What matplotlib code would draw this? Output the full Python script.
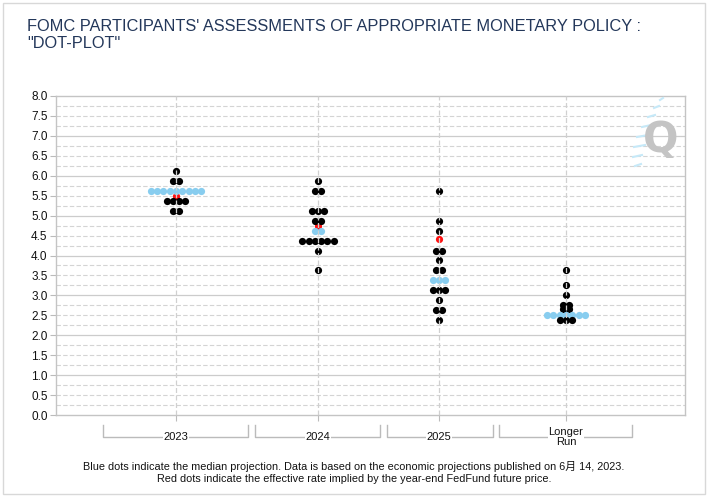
import matplotlib.pyplot as plt
import numpy as np
from matplotlib.lines import Line2D
from matplotlib.patches import Rectangle

# Datos del dot-plot (FOMC, junio 2023)
categorias = ['2023', '2024', '2025', 'Longer\nRun']
niveles = [
    [6.125, 5.875, 5.625, 5.375, 5.125],
    [5.875, 5.625, 5.125, 4.875, 4.625, 4.375, 4.125, 3.625],
    [5.625, 4.875, 4.625, 4.125, 3.875, 3.625, 3.375, 3.125, 2.875, 2.625, 2.375],
    [3.625, 3.25, 3.0, 2.75, 2.65, 2.5, 2.375],
]
conteos = [
    [1, 2, 9, 4, 2],
    [1, 2, 3, 2, 2, 6, 1, 1],
    [1, 1, 1, 2, 1, 2, 3, 3, 1, 2, 1],
    [1, 1, 1, 2, 2, 7, 3],
]
medianas = [5.625, 4.625, 3.375, 2.5]
tasa_futuros = [5.5, 4.75, 4.42, None]

# layout (unidades = pixeles desde el eje izquierdo)
centros = [120, 262, 383, 510]
llaves = [(47, 192), (199, 324), (331, 437), (443, 576)]
paso = 6.3

fuente = ['Liberation Sans Narrow', 'Liberation Sans', 'Noto Sans CJK SC']
plt.rcParams['font.family'] = fuente

fig = plt.figure(figsize=(7.09, 4.97), dpi=100)
ax = fig.add_axes([56 / 709, 1 - 415 / 497, 629 / 709, 319 / 497])

# Rejilla horizontal: solida cada 1.0, punteada cada 0.25
for v in np.arange(0.25, 8.0, 0.25):
    if abs(v - round(v)) < 1e-9:
        ax.axhline(v, color='#cccccc', lw=0.9, zorder=0)
    else:
        ax.axhline(v, color='#d4d4d4', lw=0.8, ls=(0, (4, 2)), zorder=0)

# Puntos
for c, niv, cnt, med, red in zip(centros, niveles, conteos, medianas, tasa_futuros):
    if red is not None:
        ax.scatter([c], [red], s=27, color='#ff1010', zorder=2, linewidths=0)
    for y, n in zip(niv, cnt):
        xs = c + (np.arange(n) - (n - 1) / 2) * paso
        color = '#88cdef' if y == med else 'black'
        ax.scatter(xs, [y] * n, s=27, color=color, zorder=3, linewidths=0)

# Lineas verticales punteadas sobre los puntos
for c in centros:
    ax.axvline(c, color='#d0d0d0', lw=0.9, ls=(0, (4, 2)), zorder=4)

ax.set_xlim(0, 629)
ax.set_ylim(0, 8)
ax.set_yticks(np.arange(0, 8.01, 0.5))
ax.set_yticklabels([f'{v:.1f}' for v in np.arange(0, 8.01, 0.5)], fontsize=8.5)
ax.set_xticks(centros)
ax.set_xticklabels([])
ax.tick_params(axis='y', length=4, color='#bbbbbb', pad=2, labelcolor='#111111')
ax.tick_params(axis='x', length=4, color='#bbbbbb')
for s in ax.spines.values():
    s.set_color('#c4c4c4')
    s.set_linewidth(1)

# Llaves de categorias bajo el eje
trans = ax.get_xaxis_transform()
for (a, b), c, nombre in zip(llaves, centros, categorias):
    ax.add_line(Line2D([a, a, b, b], [-0.031, -0.069, -0.069, -0.031],
                       transform=trans, color='#bbbbbb', lw=1, clip_on=False))
    ax.text(c, -0.068, nombre, transform=trans, ha='center', va='center',
            fontsize=8, color='#111111', linespacing=1.0,
            bbox=dict(facecolor='white', edgecolor='none', pad=0.5))

# Titulo
fig.text(27 / 709, 1 - 19 / 497,
         "FOMC PARTICIPANTS' ASSESSMENTS OF APPROPRIATE MONETARY POLICY :\n\"DOT-PLOT\"",
         ha='left', va='top', fontsize=11.8, color='#23375a', linespacing=1.2)

# Nota al pie
fig.text(354 / 709, 1 - 472 / 497,
         'Blue dots indicate the median projection. Data is based on the economic projections published on 6月 14, 2023.\n'
         'Red dots indicate the effective rate implied by the year-end FedFund future price.',
         ha='center', va='center', fontsize=7.8, color='#111111', linespacing=1.25)

# Logo Q
fig.text(661 / 709, 1 - 140 / 497, 'Q', ha='center', va='center', fontsize=30,
         color='#c4c4c4', family='DejaVu Sans', fontweight='bold')
for (x0, y0, w) in [(660, 100, 3), (654, 108, 5), (648, 117, 7), (642, 127, 9),
                    (637, 137, 11), (634, 147, 11), (633, 157, 9), (635, 166, 6)]:
    fig.add_artist(Line2D([x0 / 709, (x0 + w) / 709], [1 - y0 / 497, 1 - (y0 - 2) / 497],
                          color='#c6e9f8', lw=1.5))

# Marco de la figura
fig.add_artist(Rectangle((3 / 709, 3 / 497), 702 / 709, 491 / 497, transform=fig.transFigure,
                         fill=False, edgecolor='#d8d8d8', lw=1))

fig.savefig('out.png', dpi=100)
